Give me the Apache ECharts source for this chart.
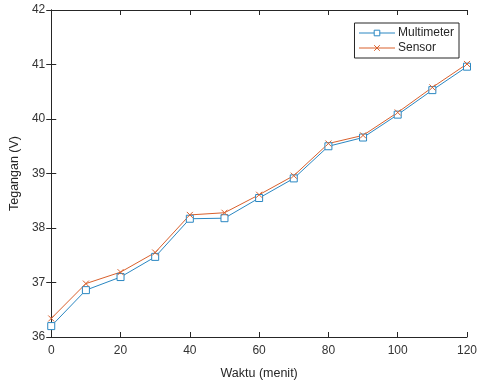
<!DOCTYPE html>
<html>
<head>
<meta charset="utf-8">
<script src="https://cdn.jsdelivr.net/npm/echarts@6/dist/echarts.min.js"></script>
<style>
  html, body { margin: 0; padding: 0; background: #fff; }
  #chart { width: 480px; height: 385px; }
</style>
</head>
<body>
<div id="chart"></div>
<script>
// data
const waktu = [0, 10, 20, 30, 40, 50, 60, 70, 80, 90, 100, 110, 120];
const multimeter = [36.2, 36.86, 37.1, 37.47, 38.17, 38.18, 38.55, 38.91, 39.5, 39.66, 40.08, 40.53, 40.96];
const sensor = [36.34, 36.98, 37.19, 37.55, 38.24, 38.28, 38.61, 38.96, 39.55, 39.7, 40.12, 40.58, 41.01];

const blue = '#2a87c2';
const orange = '#d9602c';
const font = 'Liberation Sans, Arial, sans-serif';

const pairs = arr => waktu.map((w, i) => [w, arr[i]]);

const chart = echarts.init(document.getElementById('chart'));

const axisBase = {
  type: 'value',
  axisLine: { show: true, lineStyle: { color: '#262626', width: 1 } },
  axisTick: { show: true, inside: true, length: 5, lineStyle: { color: '#262626' } },
  splitLine: { show: false }
};

const options = {
  animation: false,
  backgroundColor: '#fff',
  grid: { left: 51, right: 8, top: 10, bottom: 44 },
  legend: {
    orient: 'vertical',
    right: 21,
    top: 23,
    padding: [4, 5, 4, 4],
    itemGap: 3,
    itemWidth: 36,
    itemHeight: 7,
    borderColor: '#262626',
    borderWidth: 1,
    backgroundColor: '#fff',
    lineStyle: { width: 1 },
    itemStyle: { borderWidth: 1 },
    textStyle: { fontFamily: font, fontSize: 12, color: '#262626', padding: [0, 0, 0, -2] },
    data: ['Multimeter', 'Sensor']
  },
  xAxis: [
    Object.assign({}, axisBase, {
      min: 0, max: 120, interval: 20,
      name: 'Waktu (menit)',
      nameLocation: 'middle',
      nameGap: 30,
      nameTextStyle: { fontFamily: font, fontSize: 12.5, color: '#262626' },
      axisLabel: { fontFamily: font, fontSize: 12, color: '#333', margin: 8 }
    }),
    Object.assign({}, axisBase, {
      position: 'top', min: 0, max: 120, interval: 20,
      axisLabel: { show: false }
    })
  ],
  yAxis: [
    Object.assign({}, axisBase, {
      min: 36, max: 42, interval: 1,
      name: 'Tegangan (V)',
      nameLocation: 'middle',
      nameGap: 29,
      nameTextStyle: { fontFamily: font, fontSize: 12.5, color: '#262626' },
      axisLabel: { fontFamily: font, fontSize: 12, color: '#333', margin: 6 }
    }),
    Object.assign({}, axisBase, {
      position: 'right', min: 36, max: 42, interval: 1,
      axisLabel: { show: false }
    })
  ],
  series: [
    {
      name: 'Multimeter',
      type: 'line',
      data: pairs(multimeter),
      symbol: 'rect',
      symbolSize: 7,
      showAllSymbol: true,
      lineStyle: { color: blue, width: 1 },
      itemStyle: { color: '#fff', borderColor: blue, borderWidth: 1 }
    },
    {
      name: 'Sensor',
      type: 'line',
      data: pairs(sensor),
      symbol: 'path://M0,0L10,10M10,0L0,10',
      symbolSize: 6,
      showAllSymbol: true,
      lineStyle: { color: orange, width: 1 },
      itemStyle: { color: 'none', borderColor: orange, borderWidth: 1 }
    }
  ]
};

chart.setOption(options);
</script>
</body>
</html>
